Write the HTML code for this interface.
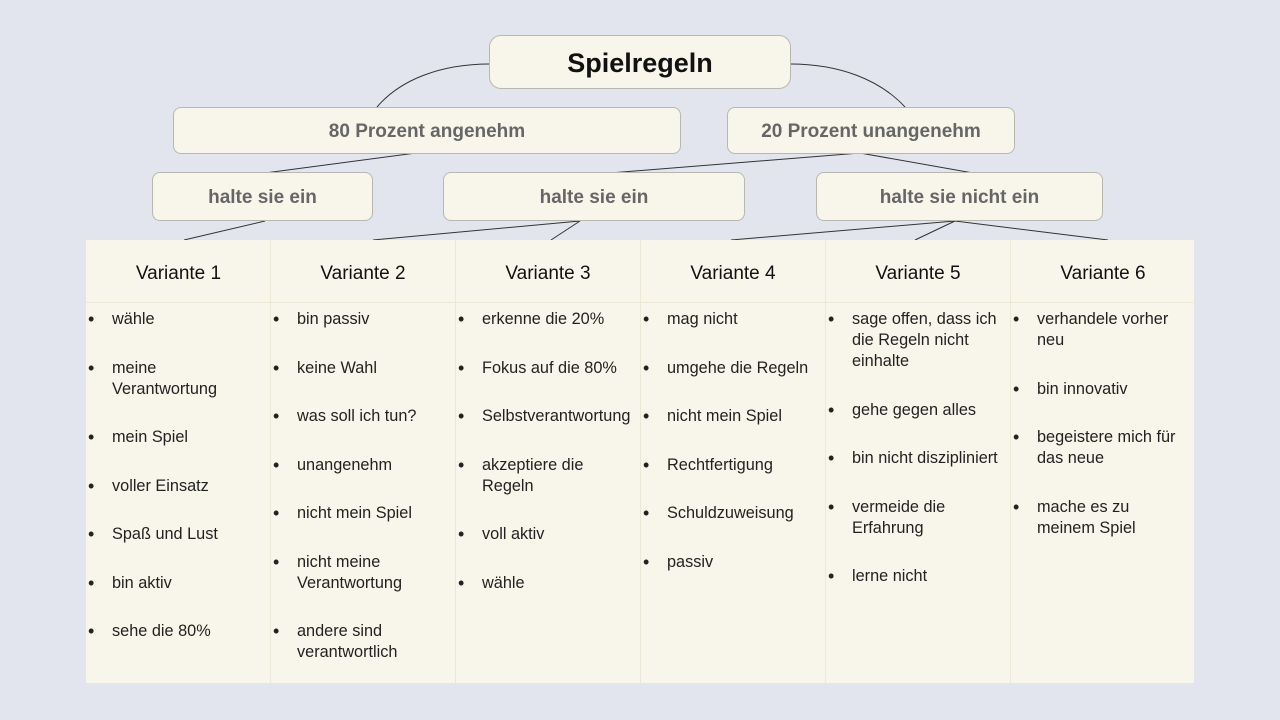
<!DOCTYPE html>
<html><head><meta charset="utf-8"><style>
body{margin:0;width:1280px;height:720px;background:#e2e5ee;font-family:"Liberation Sans",Arial,sans-serif;position:relative;overflow:hidden}
.b{position:absolute;background:#f8f6ea;border:1px solid #b8b8b0;border-radius:8px;box-sizing:border-box;display:flex;align-items:center;justify-content:center;color:#666;font-weight:bold;font-size:19px;padding-top:3px}
.tbl{position:absolute;left:86px;top:240px;width:1108px;height:443px;background:#f8f6ea}
.col{position:absolute;top:0;height:443px;width:185px;border-left:1px solid #ebe8d8;box-sizing:border-box}
.col:first-child{border-left:none}
.h{height:63px;border-bottom:1px solid #ebe8d8;display:flex;align-items:center;justify-content:center;font-size:19px;color:#111;padding-top:5px;box-sizing:border-box}
ul{margin:0;padding:0;list-style:none;position:absolute;top:69px;left:0;right:0}
li{position:relative;padding-left:26px;font-size:16.3px;line-height:21px;color:#222;margin-bottom:27.5px;white-space:nowrap}
li:before{content:"•";position:absolute;left:2px;top:0;font-size:18px}
</style></head><body>
<svg width="1280" height="720" style="position:absolute;left:0;top:0">
<g stroke="#333" stroke-width="1" fill="none">
<path d="M490,64 C440,64 400,80 377,107"/>
<path d="M790,64 C840,64 880,80 905,107"/>
<line x1="416" y1="153" x2="265" y2="173"/>
<line x1="860" y1="153" x2="610" y2="173"/>
<line x1="860" y1="153" x2="973" y2="173"/>
<line x1="265" y1="221" x2="184" y2="240"/>
<line x1="580" y1="221" x2="373" y2="240"/>
<line x1="580" y1="221" x2="551" y2="240"/>
<line x1="955" y1="221" x2="731" y2="240"/>
<line x1="955" y1="221" x2="915" y2="240"/>
<line x1="955" y1="221" x2="1108" y2="240"/>
</g></svg>
<div class="b" style="left:489px;top:35px;width:302px;height:54px;color:#111;font-size:27px;border-radius:12px">Spielregeln</div>
<div class="b" style="left:173px;top:107px;width:508px;height:47px">80 Prozent angenehm</div>
<div class="b" style="left:727px;top:107px;width:288px;height:47px">20 Prozent unangenehm</div>
<div class="b" style="left:152px;top:172px;width:221px;height:49px">halte sie ein</div>
<div class="b" style="left:443px;top:172px;width:302px;height:49px">halte sie ein</div>
<div class="b" style="left:816px;top:172px;width:287px;height:49px">halte sie nicht ein</div>
<div class="tbl">
<div class="col" style="left:0"><div class="h">Variante 1</div><ul><li>wähle</li><li>meine<br>Verantwortung</li><li>mein Spiel</li><li>voller Einsatz</li><li>Spaß und Lust</li><li>bin aktiv</li><li>sehe die 80%</li></ul></div>
<div class="col" style="left:184px"><div class="h">Variante 2</div><ul><li>bin passiv</li><li>keine Wahl</li><li>was soll ich tun?</li><li>unangenehm</li><li>nicht mein Spiel</li><li>nicht meine<br>Verantwortung</li><li>andere sind<br>verantwortlich</li></ul></div>
<div class="col" style="left:369px"><div class="h">Variante 3</div><ul><li>erkenne die 20%</li><li>Fokus auf die 80%</li><li>Selbstverantwortung</li><li>akzeptiere die<br>Regeln</li><li>voll aktiv</li><li>wähle</li></ul></div>
<div class="col" style="left:554px"><div class="h">Variante 4</div><ul><li>mag nicht</li><li>umgehe die Regeln</li><li>nicht mein Spiel</li><li>Rechtfertigung</li><li>Schuldzuweisung</li><li>passiv</li></ul></div>
<div class="col" style="left:739px"><div class="h">Variante 5</div><ul><li>sage offen, dass ich<br>die Regeln nicht<br>einhalte</li><li>gehe gegen alles</li><li>bin nicht diszipliniert</li><li>vermeide die<br>Erfahrung</li><li>lerne nicht</li></ul></div>
<div class="col" style="left:924px"><div class="h">Variante 6</div><ul><li>verhandele vorher<br>neu</li><li>bin innovativ</li><li>begeistere mich für<br>das neue</li><li>mache es zu<br>meinem Spiel</li></ul></div>
</div>
</body></html>
